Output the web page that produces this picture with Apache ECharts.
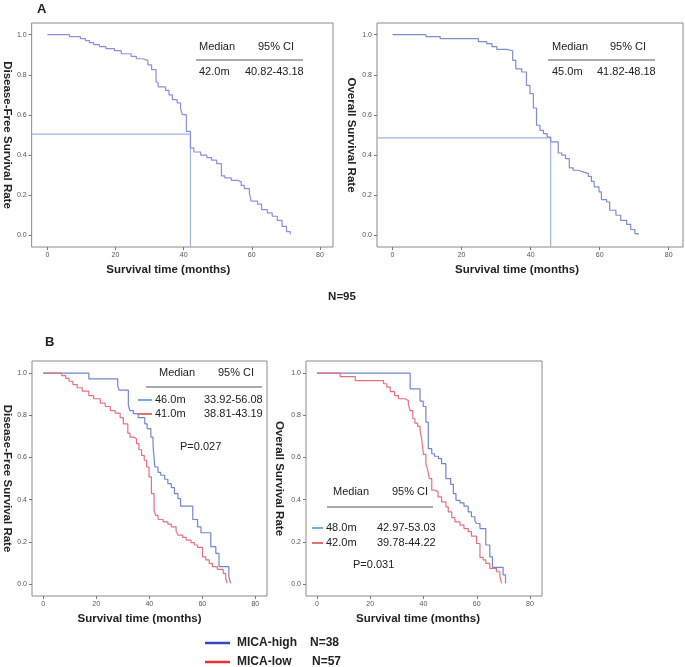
<!DOCTYPE html>
<html><head><meta charset="utf-8">
<script src="https://cdn.jsdelivr.net/npm/echarts@6/dist/echarts.min.js"></script>
<style>html,body{margin:0;padding:0;background:#fff}#c{width:685px;height:667px}</style>
</head><body><div id="c"></div>
<script>
// ---- data (months, survival proportion) ----
const xTicks = [0, 20, 40, 60, 80];
const yTicks = [0, 0.2, 0.4, 0.6, 0.8, 1.0];

const dfsAll = [[0,1.0],[6.5,0.99],[9.7,0.98],[11.2,0.97],[12.4,0.96],[13.6,0.95],[15.3,0.94],[17.2,0.93],[19.7,0.92],[21.7,0.905],[24.6,0.892],[26.1,0.88],[28,0.872],[29.5,0.85],[30.6,0.826],[31.9,0.763],[32.5,0.74],[34.7,0.723],[35.7,0.70],[36.7,0.677],[38.1,0.66],[39.1,0.632],[39.6,0.602],[40.8,0.519],[42,0.436],[43,0.416],[45,0.4],[46.8,0.388],[48.2,0.375],[49.7,0.358],[51.1,0.297],[52.1,0.287],[54,0.275],[55.9,0.267],[56.9,0.25],[57.8,0.234],[59.3,0.214],[59.8,0.171],[61.7,0.156],[62.9,0.129],[64.6,0.113],[66,0.096],[67.5,0.076],[68.9,0.046],[70.2,0.02],[71.3,0.005]];
const osAll = [[0,1],[9.7,0.99],[13.8,0.98],[24.9,0.965],[27.3,0.955],[28.8,0.94],[30.2,0.927],[33,0.92],[34.8,0.872],[35.7,0.83],[37.4,0.814],[38.8,0.748],[39.8,0.706],[40.8,0.635],[41.7,0.549],[42.7,0.524],[43.7,0.507],[44.8,0.49],[45.8,0.466],[48,0.411],[49,0.4],[50.1,0.383],[51.2,0.337],[52.3,0.325],[53.8,0.317],[55.2,0.308],[56.7,0.295],[57.6,0.27],[58.4,0.242],[59.8,0.217],[60.5,0.179],[62,0.167],[62.9,0.126],[64.7,0.101],[66.1,0.076],[67.8,0.056],[69,0.03],[70.2,0.01],[71.1,0.003]];

const dfsHigh = [[0,1],[17.2,0.973],[28.1,0.94],[28.6,0.92],[32.1,0.847],[32.7,0.823],[34,0.808],[35.8,0.789],[38.3,0.76],[39.2,0.737],[40.6,0.697],[41.4,0.658],[42.1,0.555],[43.3,0.53],[44.3,0.516],[45.8,0.497],[47,0.476],[48.3,0.457],[49.5,0.429],[50.8,0.405],[51.8,0.369],[56.4,0.306],[58.2,0.271],[59.5,0.243],[63.2,0.177],[65.1,0.145],[66.3,0.082],[70,0.035],[70.7,0.003]];
const dfsLow = [[0,1],[7.0,0.989],[8.5,0.976],[9.7,0.962],[11.2,0.946],[12.8,0.931],[14.7,0.915],[17.2,0.894],[19,0.879],[21.5,0.858],[23.4,0.842],[25.3,0.823],[27.1,0.811],[29,0.789],[30.2,0.76],[31.9,0.716],[32.7,0.697],[34,0.689],[35.2,0.666],[36.1,0.637],[37.1,0.61],[38.1,0.587],[39,0.555],[39.9,0.508],[40.8,0.429],[41.8,0.35],[42.4,0.326],[43.3,0.306],[45.2,0.295],[47,0.284],[48.3,0.271],[50.1,0.252],[50.8,0.232],[52.6,0.221],[53.9,0.208],[55.7,0.196],[57,0.185],[58.2,0.174],[60.1,0.129],[61.3,0.114],[62.6,0.098],[63.8,0.082],[65.7,0.069],[67.9,0.05],[68.8,0.027],[69.4,0.003]];

const osHigh = [[0,1],[35,0.926],[38.7,0.868],[39.9,0.842],[40.9,0.768],[41.8,0.642],[43.1,0.618],[44.1,0.606],[45.6,0.595],[46.8,0.571],[48.4,0.5],[50.2,0.473],[51.2,0.429],[52.2,0.397],[53.7,0.385],[55.2,0.369],[56.8,0.342],[58,0.319],[59.3,0.3],[59.9,0.287],[61.2,0.263],[63.4,0.185],[64.9,0.129],[65.9,0.079],[69.9,0.043],[70.8,0.003]];
const osLow = [[0,1],[8.7,0.984],[14.4,0.965],[25,0.95],[26.2,0.934],[27.5,0.913],[29.1,0.894],[30.6,0.879],[33.1,0.871],[34.3,0.852],[35,0.823],[36,0.784],[36.8,0.763],[37.8,0.748],[38.7,0.729],[39.3,0.689],[40,0.615],[40.9,0.571],[41.6,0.539],[42.2,0.5],[43.1,0.445],[44.3,0.437],[45.5,0.413],[46.8,0.39],[48.4,0.366],[49.3,0.342],[50.6,0.315],[51.8,0.295],[53.7,0.279],[55.2,0.263],[56.8,0.248],[58,0.227],[59.9,0.192],[61.2,0.126],[62.4,0.114],[63.4,0.098],[64.9,0.074],[67.4,0.058],[68.7,0.035],[69.3,0.003]];

// median reference lines in panel A (time, survival)
const medDfsAll = [42, 0.505];
const medOsAll = [45.8, 0.486];

// ---- layout ----
const FONT = '"Liberation Sans", Arial, sans-serif';
const panels = [
  {left:27, top:23, width:306, height:224, xmin:-4.62, xmax:83.85, ymin:-0.057, ymax:1.058, yname:'Disease-Free Survival Rate', ygap:17, xpad:28},
  {left:377, top:23, width:306, height:224, xmin:-4.5, xmax:84.13, ymin:-0.057, ymax:1.058, yname:'Overall Survival Rate', ygap:20, xpad:26},
  {left:29, top:361, width:238, height:235, xmin:-4.24, xmax:84.4, ymin:-0.057, ymax:1.058, yname:'Disease-Free Survival Rate', ygap:19, xpad:20},
  {left:306, top:361, width:236, height:235, xmin:-4.12, xmax:84.5, ymin:-0.057, ymax:1.058, yname:'Overall Survival Rate', ygap:21, xpad:12}
];

const grid = panels.map(p => ({left:p.left, top:p.top, width:p.width, height:p.height, show:true, borderColor:'#8a8a8a', borderWidth:1, backgroundColor:'#fff'}));
const xAxis = panels.map((p,i) => ({
  type:'value', gridIndex:i, min:p.xmin, max:p.xmax,
  name:'Survival time (months)', nameLocation:'middle', nameGap:17,
  nameTextStyle:{fontFamily:FONT, fontWeight:'bold', fontSize:11.5, color:'#222', padding:[0,p.xpad,0,0]},
  axisLine:{show:false, onZero:false}, splitLine:{show:false},
  axisTick:{show:true, customValues:xTicks, length:3, lineStyle:{color:'#777'}},
  axisLabel:{customValues:xTicks, fontSize:7, color:'#555', margin:5, fontFamily:FONT}
}));
const yAxis = panels.map((p,i) => ({
  type:'value', gridIndex:i, min:p.ymin, max:p.ymax,
  name:p.yname, nameLocation:'middle', nameGap:p.ygap, nameRotate:-90,
  nameTextStyle:{fontFamily:FONT, fontWeight:'bold', fontSize:11.5, color:'#222'},
  axisLine:{show:false, onZero:false}, splitLine:{show:false},
  axisTick:{show:true, customValues:yTicks, length:3, lineStyle:{color:'#777'}},
  axisLabel:{customValues:yTicks, fontSize:7, color:'#555', margin:5, fontFamily:FONT, formatter:v=>v.toFixed(1)}
}));

function curve(data, idx, color) {
  return {type:'line', step:'end', data:data, xAxisIndex:idx, yAxisIndex:idx, showSymbol:false, symbol:'none',
    lineStyle:{color:color, width:1.2}, silent:true, z:3};
}
function median(m, idx) {
  const p = panels[idx];
  return {type:'line', data:[[p.xmin, m[1]],[m[0], m[1]],[m[0], p.ymin]], xAxisIndex:idx, yAxisIndex:idx,
    showSymbol:false, symbol:'none', lineStyle:{color:'#9db6de', width:1.2}, silent:true, z:2};
}

const C_A1 = '#8c8ee2', C_A2 = '#7d8ed0', C_HI = '#7385d2', C_LO = '#e8707e';
const series = [
  curve(dfsAll, 0, C_A1), median(medDfsAll, 0),
  curve(osAll, 1, C_A2), median(medOsAll, 1),
  curve(dfsHigh, 2, C_HI), curve(dfsLow, 2, C_LO),
  curve(osHigh, 3, C_HI), curve(osLow, 3, C_LO)
];

function txt(x, y, s, opts) {
  return {type:'text', x:x, y:y, style:Object.assign({text:s, fontFamily:FONT, fontSize:11, fill:'#222', textVerticalAlign:'middle'}, opts||{})};
}
function hline(x1, x2, y, color, w) {
  return {type:'line', shape:{x1:x1, y1:y, x2:x2, y2:y}, style:{stroke:color, lineWidth:w}};
}
const graphic = [
  txt(37, 9, 'A', {fontWeight:'bold', fontSize:13}),
  txt(45, 342, 'B', {fontWeight:'bold', fontSize:13}),
  txt(342, 297, 'N=95', {fontWeight:'bold', fontSize:11.5, textAlign:'center'}),
  // A left table
  txt(199, 47, 'Median'), txt(258, 47, '95% CI'), hline(196, 303, 60, '#555', 1),
  txt(199, 72, '42.0m'), txt(245, 72, '40.82-43.18'),
  // A right table
  txt(552, 47, 'Median'), txt(610, 47, '95% CI'), hline(548, 655, 60, '#555', 1),
  txt(552, 72, '45.0m'), txt(597, 72, '41.82-48.18'),
  // B left table
  txt(159, 373, 'Median'), txt(218, 373, '95% CI'), hline(146, 262, 387, '#555', 1),
  hline(138, 152, 400, '#4a8fe0', 1.5), txt(155, 400, '46.0m'), txt(204, 400, '33.92-56.08'),
  hline(138, 152, 414, '#e03c3c', 1.5), txt(155, 414, '41.0m'), txt(204, 414, '38.81-43.19'),
  txt(180, 447, 'P=0.027'),
  // B right table
  txt(333, 492, 'Median'), txt(392, 492, '95% CI'), hline(327, 433, 507, '#555', 1),
  hline(312, 323, 528, '#4a8fe0', 1.5), txt(326, 528, '48.0m'), txt(377, 528, '42.97-53.03'),
  hline(312, 323, 543, '#e03c3c', 1.5), txt(326, 543, '42.0m'), txt(377, 543, '39.78-44.22'),
  txt(353, 565, 'P=0.031'),
  // bottom legend
  hline(205, 230, 643, '#3548c0', 2.5), txt(237, 643, 'MICA-high', {fontWeight:'bold', fontSize:12}), txt(310, 643, 'N=38', {fontWeight:'bold', fontSize:12}),
  hline(205, 230, 662, '#ee3030', 2.5), txt(237, 662, 'MICA-low', {fontWeight:'bold', fontSize:12}), txt(312, 662, 'N=57', {fontWeight:'bold', fontSize:12})
];

const chart = echarts.init(document.getElementById('c'), null, {renderer:'canvas'});
chart.setOption({backgroundColor:'#fff', animation:false, grid, xAxis, yAxis, series, graphic});
</script></body></html>
